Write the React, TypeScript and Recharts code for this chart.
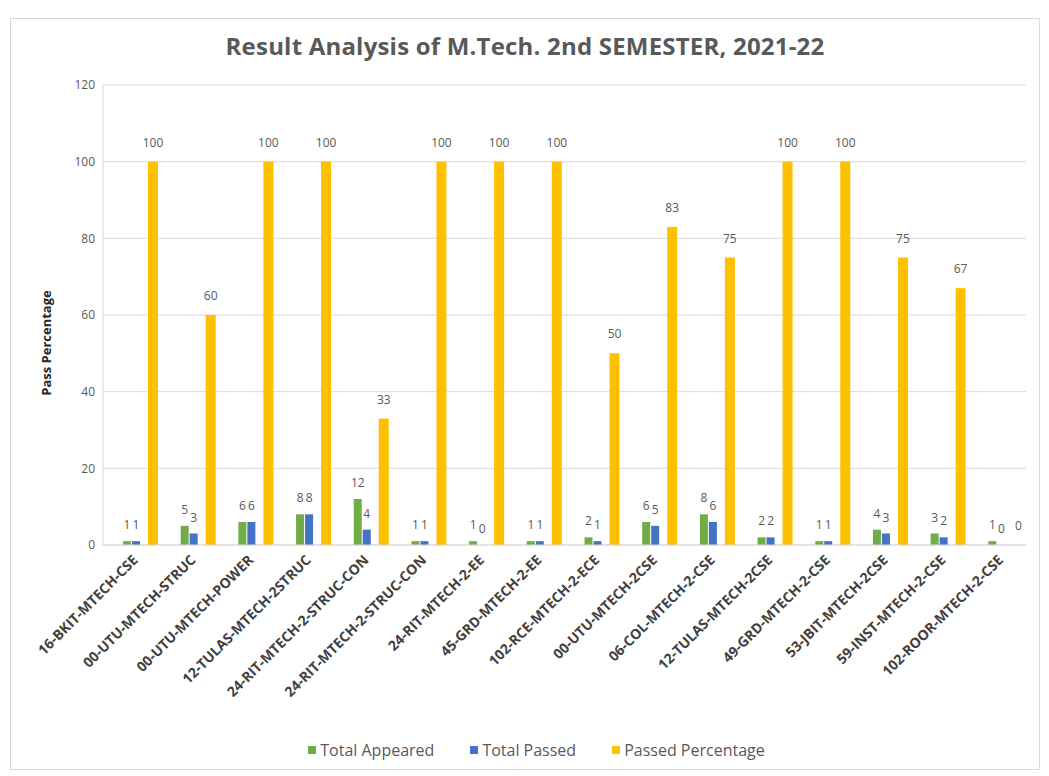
import { BarChart, Bar, XAxis, YAxis, CartesianGrid, Legend, LabelList } from 'recharts'

const categories = [
  '16-BKIT-MTECH-CSE',
  '00-UTU-MTECH-STRUC',
  '00-UTU-MTECH-POWER',
  '12-TULAS-MTECH-2STRUC',
  '24-RIT-MTECH-2-STRUC-CON',
  '24-RIT-MTECH-2-STRUC-CON',
  '24-RIT-MTECH-2-EE',
  '45-GRD-MTECH-2-EE',
  '102-RCE-MTECH-2-ECE',
  '00-UTU-MTECH-2CSE',
  '06-COL-MTECH-2-CSE',
  '12-TULAS-MTECH-2CSE',
  '49-GRD-MTECH-2-CSE',
  '53-JBIT-MTECH-2CSE',
  '59-INST-MTECH-2-CSE',
  '102-ROOR-MTECH-2-CSE',
]
const totalAppeared = [1, 5, 6, 8, 12, 1, 1, 1, 2, 6, 8, 2, 1, 4, 3, 1]
const totalPassed = [1, 3, 6, 8, 4, 1, 0, 1, 1, 5, 6, 2, 1, 3, 2, 0]
const passedPercentage = [100, 60, 100, 100, 33, 100, 100, 100, 50, 83, 75, 100, 100, 75, 67, 0]
const yTicks = [0, 20, 40, 60, 80, 100, 120]

const data = categories.map((name, i) => ({
  name,
  appeared: totalAppeared[i],
  passed: totalPassed[i],
  pct: passedPercentage[i],
}))

const legendItems = [
  { label: 'Total Appeared', color: '#70AD47' },
  { label: 'Total Passed', color: '#4472C4' },
  { label: 'Passed Percentage', color: '#FFC000' },
]

const GRAY = '#595959'
const FONT = '"Open Sans", "Liberation Sans", sans-serif'
const SHIFT = 21

function AngledTick(props: any) {
  const { x, y, payload } = props
  return (
    <g transform={`translate(${x + 7},${y + 8})`}>
      <text textAnchor="end" transform="rotate(-45)" fill="#404040" fontSize={14} fontWeight={700} fontFamily={FONT}>
        {payload.value}
      </text>
    </g>
  )
}

function makeShape(shift: number) {
  return function ShiftedBar(props: any) {
    const { x, y, width, height, fill } = props
    return <rect x={x + shift} y={y} width={width} height={Math.max(height || 0, 0)} fill={fill} />
  }
}
const PlainBar = makeShape(0)
const ShiftedBar = makeShape(SHIFT)

// value label above a bar, drawn even for zero-height bars
function makeLabel(shift: number, gap: number) {
  return function BarLabel(props: any) {
    const { x, y, width, value } = props
    return (
      <text x={x + width / 2 + shift} y={y - gap} textAnchor="middle" fill={GRAY} fontSize={12} fontFamily={FONT}>
        {value}
      </text>
    )
  }
}
const SmallLabel = makeLabel(0, 12)
const PctLabel = makeLabel(SHIFT, 15)

function YLabel(props: any) {
  const vb = props.viewBox || { x: 0, y: 0, height: 0 }
  const cx = vb.x + 40
  const cy = vb.y + vb.height / 2 + 28
  return (
    <text x={cx} y={cy} transform={`rotate(-90, ${cx}, ${cy})`} textAnchor="middle" fill="#262626" fontSize={13} fontWeight={700} fontFamily={FONT}>
      Pass Percentage
    </text>
  )
}

function LegendBox() {
  return (
    <div style={{ display: 'flex', justifyContent: 'center', gap: 36, fontSize: 16, color: GRAY, fontFamily: FONT, paddingLeft: 36 }}>
      {legendItems.map((it) => (
        <div key={it.label} style={{ display: 'flex', alignItems: 'center', gap: 4 }}>
          <span style={{ display: 'inline-block', width: 8, height: 8, background: it.color }} />
          <span>{it.label}</span>
        </div>
      ))}
    </div>
  )
}

export default function App() {
  return (
    <div style={{ position: 'relative', width: 1028, height: 750, marginTop: 10, marginLeft: 2, border: '1px solid #d9d9d9', background: '#fff', fontFamily: FONT }}>
      <div style={{ position: 'absolute', top: 10, left: 0, width: '100%', textAlign: 'center', fontSize: 24, fontWeight: 700, letterSpacing: 0.2, color: GRAY }}>
        Result Analysis of M.Tech. 2nd SEMESTER, 2021-22
      </div>
      <BarChart width={1028} height={750} data={data} margin={{ top: 66, right: 13, left: 0, bottom: 6 }} barGap={1}>
        <CartesianGrid vertical={false} stroke="#d9d9d9" />
        <XAxis dataKey="name" interval={0} height={194} tick={<AngledTick />} tickLine={false} axisLine={{ stroke: '#d9d9d9' }} />
        <XAxis xAxisId="b" dataKey="name" hide />
        <YAxis
          domain={[0, 120]}
          ticks={yTicks}
          width={92}
          tickLine={false}
          axisLine={{ stroke: '#d9d9d9' }}
          tick={{ fill: GRAY, fontSize: 12, fontFamily: FONT }}
          label={<YLabel />}
        />
        <Legend verticalAlign="bottom" height={24} content={<LegendBox />} />
        <Bar dataKey="appeared" name="Total Appeared" fill="#70AD47" barSize={8} shape={<PlainBar />} isAnimationActive={false}>
          <LabelList dataKey="appeared" content={<SmallLabel />} />
        </Bar>
        <Bar dataKey="passed" name="Total Passed" fill="#4472C4" barSize={8} shape={<PlainBar />} isAnimationActive={false}>
          <LabelList dataKey="passed" content={<SmallLabel />} />
        </Bar>
        <Bar xAxisId="b" dataKey="pct" name="Passed Percentage" fill="#FFC000" barSize={10} shape={<ShiftedBar />} isAnimationActive={false}>
          <LabelList dataKey="pct" content={<PctLabel />} />
        </Bar>
      </BarChart>
    </div>
  )
}
